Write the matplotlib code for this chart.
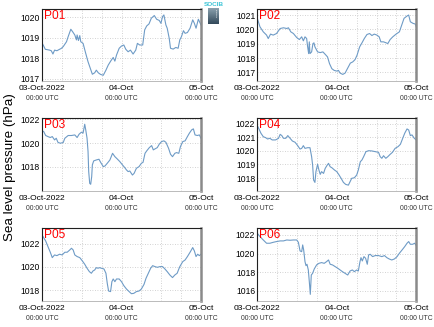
import matplotlib
matplotlib.use("Agg")
import matplotlib.pyplot as plt
import matplotlib.transforms as mtransforms
from matplotlib.colors import LinearSegmentedColormap
import numpy as np

plt.rcParams['font.family'] = ['Liberation Sans', 'DejaVu Sans']

station_names = ["P01", "P02", "P03", "P04", "P05", "P06"]
xtick_hours = [0, 24, 48]
xtick_labels = ["03-Oct-2022", "04-Oct", "05-Oct"]
xtick_sublabel = "00:00 UTC"
ylabel = "Sea level pressure (hPa)"
logo_text = "SOCIB"

p01_h = [0, 1, 2.3, 2.8, 3.3, 3.8, 4.5, 5.3, 5.8, 6.4, 7.4, 7.9, 8.7, 9.2, 9.9, 10.4, 10.6, 11.0, 11.4, 11.7,
         12.4, 13.2, 13.9, 14.6, 15.2, 15.9, 16.4, 17.0, 17.7, 18.5, 19.3, 20.0, 20.8, 21.5, 22.0, 22.5, 23.3,
         24.0, 24.7, 25.3, 26.0, 26.7, 27.5, 28.3, 28.8, 29.5, 30.4, 31.0, 31.6, 32.3, 33.0, 33.9, 34.6, 35.4,
         35.9, 36.4, 36.8, 37.4, 37.8, 38.4, 38.8, 39.6, 40.4, 41.1, 41.6, 42.1, 42.7, 43.2, 43.9, 44.7, 45.5,
         46.0, 46.5, 47.2, 48.0]
p01_v = [1018.75, 1018.43, 1018.39, 1018.36, 1018.20, 1018.39, 1018.36, 1018.43, 1018.47, 1018.56, 1018.80,
         1019.05, 1019.41, 1019.30, 1019.13, 1018.89, 1019.13, 1018.86, 1019.10, 1018.80,
         1018.72, 1018.23, 1017.82, 1017.49, 1017.21, 1017.28, 1017.41, 1017.28, 1017.20, 1017.16, 1017.41,
         1017.66, 1017.87, 1018.03, 1017.85, 1018.15, 1018.48,
         1018.59, 1018.64, 1018.43, 1018.31, 1018.39, 1018.20, 1018.39, 1018.72, 1018.64, 1018.64, 1019.38,
         1019.57, 1019.67, 1019.95, 1020.08, 1019.90, 1019.84,
         1019.70, 1020.03, 1020.11, 1019.62, 1019.46, 1018.97, 1018.48, 1018.44, 1018.52, 1018.48, 1018.89,
         1019.05, 1019.34, 1019.21, 1019.25, 1019.46, 1019.87,
         1019.70, 1019.46, 1019.90, 1019.62]

p02_h = [0, 0.8, 1.8, 2.8, 3.3, 4.0, 4.8, 5.8, 6.9, 7.9, 8.9, 9.4, 10.1, 10.9, 11.9, 12.7, 13.4, 13.9, 14.4,
         14.9, 15.2, 15.5, 15.7, 15.9, 16.4, 16.8, 17.1, 17.4, 18.2, 19.0, 19.8, 20.5, 21.2, 21.8, 22.5, 23.2,
         24.0, 24.5, 25.0, 25.8, 26.5, 27.2, 28.1, 28.8, 29.5, 30.1, 30.9, 31.6, 32.3, 33.1, 33.9, 34.6, 35.3,
         36.1, 36.8, 37.3, 38.1, 38.9, 39.4, 40.1, 40.9, 41.9, 42.9, 43.6, 44.3, 45.2, 45.7, 46.2, 47.0, 47.7, 48.0]
p02_v = [1020.77, 1020.18, 1019.83, 1019.60, 1019.36, 1019.67, 1019.60, 1019.71, 1020.06, 1020.11, 1020.06,
         1020.11, 1019.83, 1019.71, 1019.43, 1019.29, 1019.48, 1019.20, 1019.48,
         1019.36, 1018.78, 1018.31, 1019.13, 1018.31, 1018.43, 1019.01, 1019.06, 1018.78, 1018.43, 1018.38,
         1018.43, 1018.26, 1018.08, 1017.61, 1017.26, 1017.14,
         1017.09, 1017.14, 1016.95, 1016.86, 1016.95, 1017.26, 1017.65, 1017.73, 1017.89, 1018.19, 1018.78,
         1019.06, 1019.36, 1019.64, 1019.71, 1019.57, 1019.67,
         1019.60, 1019.48, 1019.13, 1019.13, 1019.06, 1019.01, 1019.29, 1019.48, 1019.67, 1019.83, 1020.30,
         1020.77, 1020.93, 1021.00, 1020.53, 1020.42, 1020.37, 1020.18]

p03_h = [0, 0.5, 1.1, 1.8, 2.5, 3.1, 3.8, 4.3, 4.8, 5.5, 6.4, 6.9, 7.9, 8.9, 9.9, 10.6, 11.2, 11.9, 12.4, 12.9,
         13.2, 13.6, 13.9, 14.1, 14.4, 14.7, 15.0, 15.2, 15.6, 16.4, 17.2, 17.7, 18.5, 19.0, 19.7, 20.5, 21.3,
         22.0, 22.7, 23.5, 24.3, 25.0, 25.5, 26.0, 26.5, 27.3, 27.8, 28.5, 29.3, 30.0, 30.5, 31.1, 31.6, 32.4,
         33.1, 33.6, 34.1, 34.8, 35.4, 36.1, 36.8, 37.4, 38.2, 38.8, 39.4, 40.1, 40.6, 41.3, 41.8, 42.5, 43.2,
         43.9, 44.5, 45.2, 45.7, 46.2, 46.9, 47.5, 48.0]
p03_v = [1021.04, 1020.99, 1020.65, 1020.56, 1020.48, 1020.56, 1020.28, 1020.42, 1020.08, 1020.00, 1020.06,
         1020.42, 1020.65, 1020.65, 1020.70, 1020.48, 1020.76, 1020.93, 1020.85, 1021.60,
         1021.13, 1020.42, 1019.30, 1017.61, 1016.62, 1016.54, 1017.18, 1018.17, 1018.51, 1018.59, 1018.65,
         1018.39, 1018.03, 1018.08, 1018.31, 1018.59, 1019.15,
         1018.87, 1018.68, 1018.45, 1018.17, 1017.94, 1017.75, 1017.61, 1017.66, 1017.32, 1017.46, 1017.89,
         1018.03, 1018.31, 1018.39, 1019.15, 1019.35, 1019.63,
         1019.80, 1019.44, 1019.52, 1019.63, 1019.92, 1020.14, 1020.20, 1020.08, 1019.58, 1019.07, 1018.87,
         1019.15, 1019.21, 1019.15, 1019.72, 1020.14, 1020.20,
         1020.56, 1020.85, 1021.13, 1021.21, 1020.70, 1020.65, 1020.70, 1020.42]

p04_h = [0, 0.5, 1.1, 1.8, 2.5, 3.1, 3.8, 4.5, 5.5, 6.4, 6.9, 7.4, 7.9, 8.6, 9.2, 9.9, 10.6, 11.4, 12.2, 12.9,
         13.4, 13.9, 14.4, 15.2, 15.9, 16.4, 16.7, 17.0, 17.4, 17.7, 18.2, 18.6, 19.0, 19.4, 20.0, 20.5, 21.0,
         21.5, 22.0, 22.5, 23.3, 24.0, 24.7, 25.3, 26.0, 26.7, 27.5, 28.0, 28.5, 29.3, 30.0, 30.5, 31.1, 31.6,
         32.1, 32.8, 33.6, 34.6, 35.6, 36.6, 37.1, 37.6, 38.1, 38.8, 39.4, 40.1, 40.8, 41.6, 42.5, 43.2, 43.9,
         44.5, 45.2, 45.7, 46.2, 46.7, 47.4, 48.0]
p04_v = [1021.85, 1021.61, 1021.29, 1021.04, 1020.97, 1020.87, 1020.92, 1020.80, 1020.80, 1020.92, 1021.21,
         1021.12, 1020.92, 1020.92, 1021.12, 1020.92, 1020.72, 1020.63, 1020.38, 1020.13,
         1020.18, 1020.38, 1020.18, 1020.23, 1020.23, 1019.57, 1018.96, 1017.85, 1017.68, 1018.47, 1019.01,
         1018.59, 1018.27, 1018.47, 1018.34, 1018.71, 1018.91,
         1019.08, 1018.83, 1018.76, 1018.59, 1018.47, 1018.22, 1017.98, 1017.68, 1017.53, 1017.48, 1017.73,
         1017.98, 1018.02, 1018.22, 1018.59, 1019.20, 1019.33,
         1019.57, 1019.94, 1020.01, 1019.99, 1019.94, 1019.89, 1019.57, 1019.45, 1019.64, 1019.45, 1019.57,
         1019.74, 1019.89, 1020.18, 1020.31, 1020.48, 1020.92,
         1021.29, 1021.61, 1021.53, 1021.12, 1021.17, 1020.92, 1020.80]

p05_h = [0, 0.5, 1.1, 1.8, 2.5, 3.1, 3.8, 4.5, 5.3, 6.1, 6.9, 7.6, 8.4, 8.9, 9.4, 9.9, 10.6, 11.4, 12.2, 12.9,
         13.6, 14.3, 14.9, 15.4, 15.9, 16.4, 16.9, 17.4, 17.9, 18.7, 19.3, 19.7, 20.1, 20.7, 21.1, 21.5, 22.0,
         22.5, 23.3, 24.0, 24.7, 25.5, 26.3, 27.0, 27.7, 28.5, 29.3, 30.0, 30.8, 31.4, 32.1, 32.8, 33.4, 34.1,
         34.8, 35.6, 36.4, 37.1, 37.8, 38.6, 39.4, 40.1, 40.8, 41.6, 42.5, 43.2, 43.9, 44.7, 45.5, 46.0, 46.5,
         47.0, 47.5, 48.0]
p05_v = [1022.74, 1022.51, 1022.23, 1021.74, 1021.26, 1020.80, 1021.03, 1020.97, 1021.09, 1021.03, 1021.26,
         1021.26, 1021.46, 1021.60, 1021.46, 1021.03, 1020.89, 1020.80, 1020.51, 1020.23,
         1019.89, 1019.60, 1019.46, 1019.66, 1019.74, 1019.94, 1019.89, 1019.94, 1019.89, 1019.83, 1019.46,
         1018.60, 1017.94, 1017.89, 1018.74, 1018.97, 1018.74,
         1018.97, 1018.97, 1018.74, 1018.40, 1018.11, 1017.89, 1017.71, 1017.74, 1017.89, 1017.94, 1018.11,
         1018.51, 1019.03, 1019.46, 1019.89, 1020.11, 1020.03,
         1019.97, 1020.03, 1020.03, 1019.83, 1019.60, 1019.31, 1019.09, 1019.31, 1019.46, 1020.03, 1020.46,
         1020.60, 1020.89, 1021.26, 1021.66, 1021.37, 1020.89,
         1021.09, 1020.97, 1021.09]

p06_h = [0, 0.8, 1.8, 2.8, 3.8, 4.8, 5.8, 6.9, 7.9, 8.9, 9.9, 10.9, 11.9, 12.4, 12.9, 13.4, 13.7, 14.0, 14.4,
         14.7, 15.0, 15.4, 15.7, 16.0, 16.3, 16.7, 17.2, 17.9, 18.6, 19.4, 20.2, 20.9, 21.5, 22.0, 22.7, 23.5,
         24.3, 25.0, 25.7, 26.5, 27.3, 28.0, 28.7, 29.3, 30.0, 30.5, 31.0, 31.3, 31.7, 32.2, 32.7, 33.2, 33.6,
         34.1, 34.8, 35.6, 36.6, 37.6, 38.4, 39.1, 39.8, 40.6, 41.4, 42.2, 42.9, 43.7, 44.5, 45.2, 45.7, 46.2,
         46.9, 47.5, 48.0]
p06_v = [1022.18, 1021.82, 1021.46, 1021.11, 1021.11, 1021.21, 1021.29, 1021.36, 1021.36, 1021.46, 1021.43,
         1021.46, 1021.46, 1021.21, 1020.29, 1020.21, 1020.93, 1020.39, 1019.14,
         1018.71, 1018.86, 1018.25, 1017.00, 1015.64, 1017.71, 1017.89, 1018.36, 1018.79, 1018.96, 1019.04,
         1018.96, 1019.14, 1019.32, 1018.86, 1018.79, 1018.61,
         1018.43, 1018.25, 1018.07, 1017.89, 1017.71, 1018.14, 1018.25, 1018.07, 1018.25, 1018.14, 1019.14,
         1019.57, 1019.21, 1019.68, 1019.50, 1018.86, 1019.86,
         1019.93, 1019.68, 1019.79, 1019.79, 1019.68, 1019.79, 1019.57, 1019.43, 1019.32, 1019.43, 1019.68,
         1020.04, 1020.39, 1020.75, 1021.11, 1021.29, 1021.00,
         1021.00, 1021.11, 1020.86]

series_hours = [p01_h, p02_h, p03_h, p04_h, p05_h, p06_h]
series_values = [p01_v, p02_v, p03_v, p04_v, p05_v, p06_v]
ylims = [(1016.88, 1020.4), (1016.4, 1021.42), (1016.0, 1022.1),
         (1017.07, 1022.39), (1017.11, 1023.31), (1014.96, 1022.71)]
yticks = [[1017, 1018, 1019, 1020], [1017, 1018, 1019, 1020, 1021], [1018, 1020, 1022],
          [1018, 1019, 1020, 1021, 1022], [1018, 1020, 1022], [1016, 1018, 1020, 1022]]

W, H = 435, 327
fig = plt.figure(figsize=(W / 100, H / 100), dpi=100)

col_x = [42, 257.3]
row_y = [(9, 81), (118.3, 190.7), (228.3, 300.7)]
axw = 159

line_color = '#6e9bc6'
grid_color = '#c4c4c4'

for i in range(6):
    r, c = divmod(i, 2)
    top, bot = row_y[r]
    ax = fig.add_axes([col_x[c] / W, 1 - bot / H, axw / W, (bot - top) / H])
    ax.plot(series_hours[i], series_values[i], color=line_color, lw=0.8)
    ax.set_xlim(0, 48)
    ax.set_ylim(*ylims[i])
    ax.set_yticks(yticks[i])
    ax.set_yticklabels([str(t) for t in yticks[i]], fontsize=6.2)
    ax.set_xticks(xtick_hours)
    ax.set_xticklabels(xtick_labels, fontsize=6.0)
    ax.set_xticks(np.arange(0, 49, 6), minor=True)
    ax.tick_params(axis='both', which='both', length=0)
    ax.tick_params(axis='y', pad=1.5)
    ax.tick_params(axis='x', pad=3.2)
    ax.grid(True, which='both', axis='x', color=grid_color, ls=(0, (1, 2)), lw=0.6)
    ax.grid(True, which='major', axis='y', color=grid_color, ls=(0, (1, 2)), lw=0.6)
    ax.set_axisbelow(True)
    for side in ['top', 'left']:
        ax.spines[side].set_color('#202020')
        ax.spines[side].set_linewidth(0.8)
    ax.spines['right'].set_color('#8a8a8a')
    ax.spines['right'].set_linewidth(1.8)
    ax.spines['bottom'].set_color('#b0b0b0')
    ax.spines['bottom'].set_linewidth(0.6)
    trans = mtransforms.blended_transform_factory(ax.transData, ax.transAxes)
    for xh in xtick_hours:
        ax.text(xh, -0.245, xtick_sublabel, transform=trans, ha='center', va='center',
                fontsize=4.9, color='#333333', clip_on=False)
    ax.text(0.012, 0.985, station_names[i], transform=ax.transAxes, ha='left', va='top',
            fontsize=8.6, color='#ff0000')

fig.text(10 / W, 1 - 167 / H, ylabel, rotation=90, ha='center', va='center', fontsize=9.6)

# logo
fig.text(213.5 / W, 1 - 5 / H, logo_text, ha='center', va='center', fontsize=4.6,
         color='#3cc4d6', fontweight='bold')
lax = fig.add_axes([208 / W, 1 - 24 / H, 11 / W, 16 / H])
grad = np.linspace(0, 1, 50).reshape(-1, 1)
cmap = LinearSegmentedColormap.from_list('logo', ['#8aa1ae', '#33495a'])
lax.imshow(grad, aspect='auto', cmap=cmap, extent=[0, 1, 0, 1])
lax.plot([0.72, 0.72], [0.45, 0.95], color='white', lw=0.6, ls=(0, (1, 1.5)))
lax.set_xlim(0, 1)
lax.set_ylim(0, 1)
lax.axis('off')

fig.savefig('out.png', dpi=100)
